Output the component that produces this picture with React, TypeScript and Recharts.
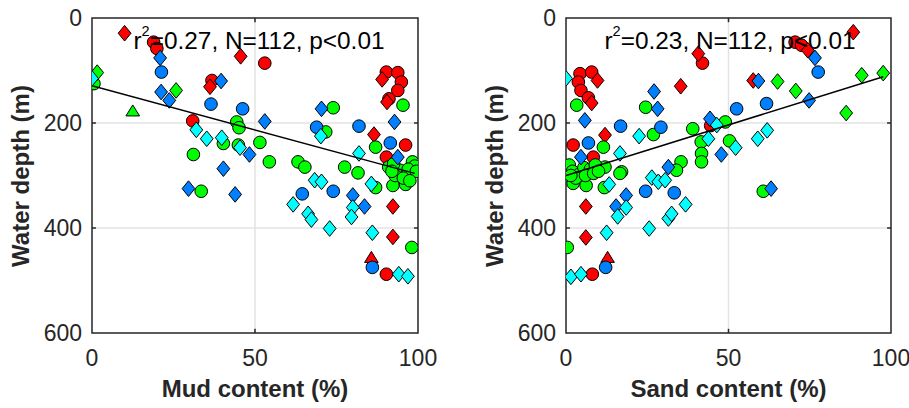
import React from 'react';
import { ScatterChart, Scatter, XAxis, YAxis, CartesianGrid, ReferenceArea, ReferenceLine } from 'recharts';

type P = [number, number];

// ---------- tick labels ----------
const contentTicks = [0, 50, 100];
const depthTicks = [0, 200, 400, 600];

// ---------- Mud content panel: [mud %, depth m] ----------
const mudRedCircle: P[] = [[18.9, 46], [19.9, 58], [36.8, 119], [53, 86], [30.9, 196], [90.3, 103], [93.8, 104], [94.9, 122], [93.8, 138], [91.1, 154], [96.2, 242], [90.3, 265], [90.3, 488]];
const mudRedDiamond: P[] = [[10, 29], [36.2, 131], [45.6, 73], [89, 117], [90.5, 160], [86.5, 222], [92.3, 359], [92.3, 417]];
const mudRedTriangle: P[] = [[85.7, 456]];
const mudBlueCircle: P[] = [[21.3, 103], [36.5, 164], [46.2, 173], [68.9, 208], [81.9, 206], [91.5, 238], [64.5, 335], [74, 330], [86, 475]];
const mudBlueDiamond: P[] = [[20.9, 76], [21.2, 141], [23.7, 157], [39.6, 120], [48.3, 260], [40.3, 287], [29.6, 325], [43.9, 336], [53, 197], [70.4, 173], [92.8, 198], [93.8, 265], [80, 338], [83.6, 359]];
const mudGreenCircle: P[] = [[0.6, 125], [44.4, 198], [45.1, 209], [40.3, 239], [44.9, 242], [51.5, 237], [31.1, 260], [33.5, 330], [74, 171], [95.4, 166], [71.7, 217], [87, 246], [54.4, 274], [63.2, 274], [65.3, 284], [77.5, 284], [81.6, 295], [87, 323], [92.3, 319], [96.2, 317], [98.1, 437], [98.3, 274], [91, 284], [94.5, 290], [96.8, 296], [92.5, 278], [99, 282], [97, 288], [93, 300], [95.5, 305], [99.5, 292], [92, 292], [97.5, 310]];
const mudGreenDiamond: P[] = [[1.6, 104], [25.8, 138]];
const mudGreenTriangle: P[] = [[12.5, 177]];
const mudCyanDiamond: P[] = [[0, 115], [32, 213], [35.2, 230], [39.8, 228], [45.4, 247], [70.2, 225], [81.9, 258], [68.3, 309], [70.4, 312], [85.7, 316], [61.7, 355], [66.3, 373], [67.3, 384], [72.9, 401], [80, 361], [79.6, 379], [86, 409], [94.1, 488], [96.9, 492]];
const mudFitX = [0, 99];
const mudFitDepth = [129, 296];

// ---------- Sand content panel: [sand %, depth m] ----------
const sandRedCircle: P[] = [[4.3, 106], [7.9, 103], [3.8, 122], [4.6, 138], [6.9, 152], [2.2, 242], [8.4, 265], [42, 86], [70.5, 46], [72.5, 52], [44.5, 205], [8.1, 488]];
const sandRedDiamond: P[] = [[9.7, 119], [7.9, 162], [12, 223], [35.3, 130], [40.7, 68], [88.4, 27], [74.4, 61.5], [57.6, 119], [6.1, 359], [6.1, 418]];
const sandRedTriangle: P[] = [[12.8, 456]];
const sandBlueCircle: P[] = [[6.9, 238], [16.8, 206], [29.2, 208], [77.6, 103], [52.5, 173], [61.7, 163], [24.5, 330], [33.3, 333], [12.2, 475]];
const sandBlueDiamond: P[] = [[5.8, 195], [4.6, 265], [27.1, 140], [28.2, 173], [44.3, 192], [47.8, 260], [76.6, 76], [59.2, 120], [74.8, 157], [63.1, 325], [31.5, 284], [18.5, 338], [15.4, 359]];
const sandGreenCircle: P[] = [[3.3, 166], [11.5, 246], [12, 284], [17.1, 293], [24.5, 170], [26.9, 222], [39, 211], [41.6, 236], [41.7, 258], [41.7, 274], [35.4, 274], [34, 290], [49, 198], [50.3, 234], [60.7, 330], [0.4, 437], [2.2, 315], [6.2, 319], [11.8, 323], [16.6, 296], [1, 280], [2, 292], [4, 298], [5.5, 285], [7.5, 288], [9, 280], [3, 305], [6, 300], [8.5, 296], [1.5, 300], [10, 292]];
const sandGreenDiamond: P[] = [[65.1, 121], [70.7, 139], [91, 109], [97.6, 105], [86.2, 181]];
const sandCyanDiamond: P[] = [[0, 115], [22.5, 225], [16.6, 258], [13.3, 317], [26.4, 304], [28.4, 312], [30.5, 309], [46.4, 204], [43.8, 230], [52.2, 247], [59, 230], [61.9, 214], [18.5, 361], [15.9, 378], [36.8, 355], [31.5, 382], [32.5, 373], [25.6, 401], [12.5, 409], [1.5, 493], [4.6, 488]];
const sandFitX = [0, 97.6];
const sandFitDepth = [300, 112];

// ---------- styles ----------
const RED = '#ff0000';
const BLUE = '#0080ff';
const GREEN = '#00ff00';
const CYAN = '#00ffff';
const AXIS = '#262626';
const FONT = '"Liberation Sans", Arial, Helvetica, sans-serif';

type Kind = 'circle' | 'diamond' | 'triangle';
interface Group { data: P[]; kind: Kind; color: string; }

const mudGroups: Group[] = [
  { data: mudRedCircle, kind: 'circle', color: RED },
  { data: mudRedDiamond, kind: 'diamond', color: RED },
  { data: mudRedTriangle, kind: 'triangle', color: RED },
  { data: mudGreenCircle, kind: 'circle', color: GREEN },
  { data: mudGreenDiamond, kind: 'diamond', color: GREEN },
  { data: mudGreenTriangle, kind: 'triangle', color: GREEN },
  { data: mudBlueCircle, kind: 'circle', color: BLUE },
  { data: mudBlueDiamond, kind: 'diamond', color: BLUE },
  { data: mudCyanDiamond, kind: 'diamond', color: CYAN },
];

const sandGroups: Group[] = [
  { data: sandRedCircle, kind: 'circle', color: RED },
  { data: sandRedDiamond, kind: 'diamond', color: RED },
  { data: sandRedTriangle, kind: 'triangle', color: RED },
  { data: sandGreenCircle, kind: 'circle', color: GREEN },
  { data: sandGreenDiamond, kind: 'diamond', color: GREEN },
  { data: sandBlueCircle, kind: 'circle', color: BLUE },
  { data: sandBlueDiamond, kind: 'diamond', color: BLUE },
  { data: sandCyanDiamond, kind: 'diamond', color: CYAN },
];

function makeShape(kind: Kind, fill: string) {
  return (props: any) => {
    const { cx, cy } = props;
    if (cx == null || cy == null) return <g />;
    const common = { fill, stroke: '#000', strokeWidth: 1 };
    if (kind === 'circle') return <circle cx={cx} cy={cy} r={6.3} {...common} />;
    if (kind === 'diamond')
      return <polygon points={`${cx},${cy - 7.8} ${cx + 6.4},${cy} ${cx},${cy + 7.8} ${cx - 6.4},${cy}`} {...common} />;
    return <polygon points={`${cx},${cy - 6} ${cx + 6.8},${cy + 5} ${cx - 6.8},${cy + 5}`} {...common} />;
  };
}

const noShape = () => <g />;

interface PanelProps {
  left: number;
  width: number;
  rightMargin: number;
  groups: Group[];
  fitX: number[];
  fitDepth: number[];
}

function Panel({ left, width, rightMargin, groups, fitX, fitDepth }: PanelProps) {
  const fit = fitX.map((x, i) => ({ x, y: fitDepth[i] }));
  const tickStyle = { fontSize: 23, fill: AXIS, fontFamily: FONT };
  return (
    <div style={{ position: 'absolute', left, top: 0 }}>
      <ScatterChart width={width} height={408} margin={{ top: 18, right: rightMargin, bottom: 0, left: 0 }}>
        <CartesianGrid stroke="#e3e3e3" strokeWidth={1.5} horizontalValues={[200, 400]} verticalValues={[50]} />
        <XAxis type="number" dataKey="x" domain={[0, 100]} ticks={contentTicks} height={75}
          axisLine={false} tickLine={false} tickMargin={11} tick={tickStyle} allowDataOverflow interval={0} />
        <YAxis type="number" dataKey="y" domain={[0, 600]} ticks={depthTicks} reversed width={92}
          axisLine={false} tickLine={false} tickMargin={4} tick={tickStyle} allowDataOverflow interval={0} />
        {groups.map((g, i) => (
          <Scatter key={i} data={g.data.map(([x, y]) => ({ x, y }))} shape={makeShape(g.kind, g.color)}
            isAnimationActive={false} />
        ))}
        <Scatter data={fit} shape={noShape} line={{ stroke: '#000', strokeWidth: 1.5 }} isAnimationActive={false} />
        <ReferenceLine segment={[{ x: 0, y: 200 }, { x: 1.2, y: 200 }]} stroke={AXIS} strokeWidth={1.5} />
        <ReferenceLine segment={[{ x: 0, y: 400 }, { x: 1.2, y: 400 }]} stroke={AXIS} strokeWidth={1.5} />
        <ReferenceLine segment={[{ x: 98.8, y: 200 }, { x: 100, y: 200 }]} stroke={AXIS} strokeWidth={1.5} />
        <ReferenceLine segment={[{ x: 98.8, y: 400 }, { x: 100, y: 400 }]} stroke={AXIS} strokeWidth={1.5} />
        <ReferenceLine segment={[{ x: 50, y: 600 }, { x: 50, y: 592 }]} stroke={AXIS} strokeWidth={1.5} />
        <ReferenceLine segment={[{ x: 50, y: 0 }, { x: 50, y: 8 }]} stroke={AXIS} strokeWidth={1.5} />
        <ReferenceArea x1={0} x2={100} y1={0} y2={600} fill="none" fillOpacity={0} stroke={AXIS} strokeWidth={1.5} strokeOpacity={1} />
      </ScatterChart>
    </div>
  );
}

const textBase: React.CSSProperties = {
  position: 'absolute', fontFamily: FONT, color: AXIS, whiteSpace: 'nowrap', lineHeight: 1,
};

function Annotation({ cx, r2 }: { cx: number; r2: string }) {
  return (
    <div style={{ ...textBase, left: cx, top: 29, fontSize: 24.4, color: '#000', transform: 'translateX(-50%)' }}>
      r<span style={{ fontSize: 14.5, position: 'relative', top: -13 }}>2</span>={r2}, N=112, p&lt;0.01
    </div>
  );
}

function XTitle({ cx, text }: { cx: number; text: string }) {
  return (
    <div style={{ ...textBase, left: cx, top: 389, fontSize: 24, fontWeight: 'bold', transform: 'translate(-50%, -50%)' }}>
      {text}
    </div>
  );
}

function YTitle({ cx }: { cx: number }) {
  return (
    <div style={{ ...textBase, left: cx, top: 175.5, fontSize: 24, fontWeight: 'bold', transform: 'translate(-50%, -50%) rotate(-90deg)' }}>
      Water depth (m)
    </div>
  );
}

export default function App() {
  return (
    <div style={{ position: 'absolute', left: 0, top: 0, width: 909, height: 408, overflow: 'hidden', background: '#fff' }}>
      <Panel left={0} width={460} rightMargin={42} groups={mudGroups} fitX={mudFitX} fitDepth={mudFitDepth} />
      <Panel left={474} width={435} rightMargin={18} groups={sandGroups} fitX={sandFitX} fitDepth={sandFitDepth} />
      <Annotation cx={259} r2="0.27" />
      <Annotation cx={730} r2="0.23" />
      <XTitle cx={255} text="Mud content (%)" />
      <XTitle cx={728.5} text="Sand content (%)" />
      <YTitle cx={21} />
      <YTitle cx={495} />
    </div>
  );
}
